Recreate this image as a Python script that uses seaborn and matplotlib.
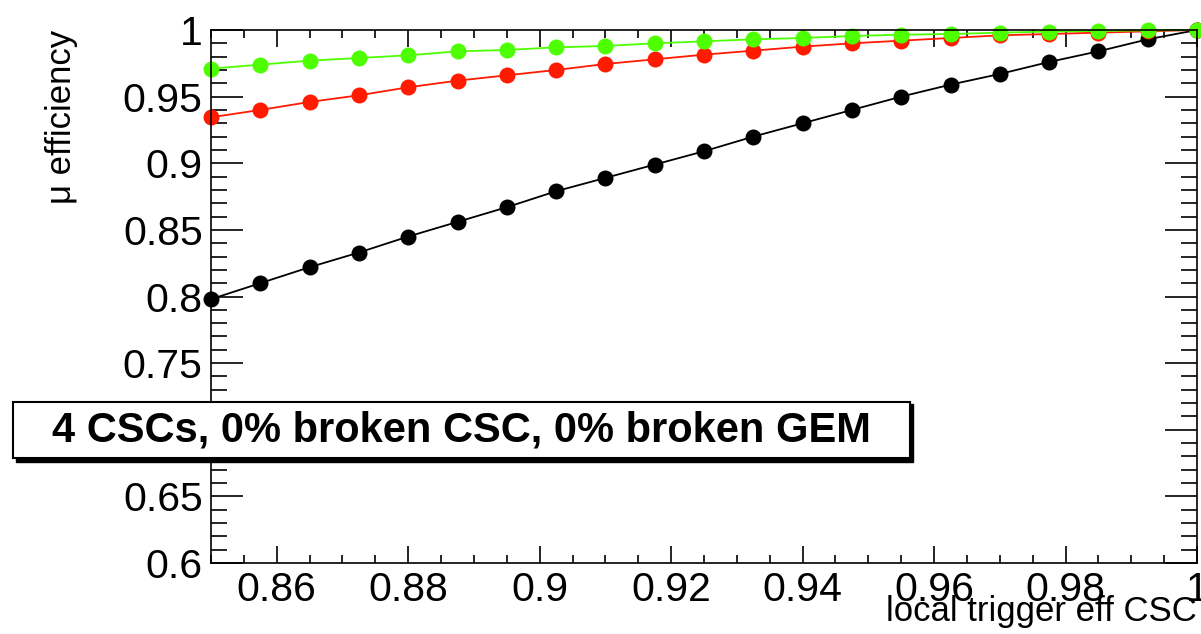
import numpy as np
import pandas as pd
import matplotlib
matplotlib.use('Agg')
import matplotlib.pyplot as plt
import seaborn as sns
from matplotlib.patches import Rectangle
from matplotlib.ticker import MultipleLocator, FixedLocator, FuncFormatter

# local trigger efficiency of the CSCs (x) and muon efficiency (y)
trig_eff = [0.85, 0.8575, 0.865, 0.8725, 0.88, 0.8875, 0.895, 0.9025, 0.91, 0.9175,
            0.925, 0.9325, 0.94, 0.9475, 0.955, 0.9625, 0.97, 0.9775, 0.985, 0.9925, 1.0]
eff_black = [0.798, 0.810, 0.822, 0.833, 0.845, 0.856, 0.867, 0.879, 0.889, 0.899,
             0.909, 0.920, 0.930, 0.940, 0.950, 0.959, 0.967, 0.976, 0.984, 0.993, 1.000]
eff_red = [0.9345, 0.940, 0.946, 0.951, 0.957, 0.962, 0.966, 0.970, 0.9745, 0.978,
           0.9815, 0.9845, 0.9875, 0.990, 0.992, 0.994, 0.996, 0.997, 0.998, 0.999, 1.000]
eff_green = [0.971, 0.974, 0.977, 0.979, 0.981, 0.984, 0.985, 0.987, 0.988, 0.990,
             0.9915, 0.993, 0.994, 0.9955, 0.9965, 0.997, 0.998, 0.9988, 0.9993, 0.9997, 1.000]

x_ticks = [0.86, 0.88, 0.9, 0.92, 0.94, 0.96, 0.98, 1.0]
y_ticks = [0.6, 0.65, 0.7, 0.75, 0.8, 0.85, 0.9, 0.95, 1.0]
box_text = '4 CSCs, 0% broken CSC, 0% broken GEM'

sns.set_style('ticks')
plt.rcParams['font.family'] = ['Liberation Sans', 'DejaVu Sans']
plt.rcParams['text.color'] = 'black'
plt.rcParams['axes.labelcolor'] = 'black'

fig = plt.figure(figsize=(12.01, 6.34), dpi=100)
ax = fig.add_axes([211 / 1201, 1 - 563 / 634, 986 / 1201, 533 / 634])

series = [(eff_black, 'black'), (eff_red, '#ff1a00'), (eff_green, '#4dff00')]
for vals, col in series:
    df = pd.DataFrame({'x': trig_eff, 'y': vals})
    sns.lineplot(data=df, x='x', y='y', color=col, marker='o', markersize=11.5,
                 markeredgewidth=0, linewidth=1.3, clip_on=False, ax=ax)

ax.set_xlim(0.85, 1.0)
ax.set_ylim(0.6, 1.0)

ax.xaxis.set_major_locator(FixedLocator(x_ticks))
ax.xaxis.set_minor_locator(MultipleLocator(0.005))
ax.yaxis.set_major_locator(FixedLocator(y_ticks))
ax.yaxis.set_minor_locator(MultipleLocator(0.01))
fmt = FuncFormatter(lambda v, p: '%g' % round(v, 4))
ax.xaxis.set_major_formatter(fmt)
ax.yaxis.set_major_formatter(fmt)

ax.tick_params(axis='both', which='both', direction='in', top=True, right=True,
               color='black', width=1.2, labelsize=29.5, labelcolor='black')
ax.tick_params(axis='x', which='major', length=12, pad=6)
ax.tick_params(axis='x', which='minor', length=6)
ax.tick_params(axis='y', which='major', length=23, pad=6)
ax.tick_params(axis='y', which='minor', length=11.5)
for s in ax.spines.values():
    s.set_linewidth(1.2)
    s.set_color('black')

ax.set_xlabel('local trigger eff CSC', fontsize=25, ha='right', color='black')
ax.xaxis.set_label_coords(1.0, -0.06)
ax.set_ylabel('\u03bc efficiency', fontsize=25, ha='right', color='black')
ax.yaxis.set_label_coords(-0.135, 1.0)

# text box with shadow, drawn over the axes like the ROOT TPaveText
W, H = 1201, 634
fig.add_artist(Rectangle((16 / W, 1 - 462 / H), 897 / W, 58 / H, transform=fig.transFigure,
                         facecolor='black', edgecolor='black', zorder=5))
fig.add_artist(Rectangle((13 / W, 1 - 458 / H), 897 / W, 56 / H, transform=fig.transFigure,
                         facecolor='white', edgecolor='black', linewidth=1.5, zorder=6))
fig.text(461 / W, 1 - 430 / H, box_text, fontsize=30, fontweight='bold', color='black',
         ha='center', va='center', zorder=7)

fig.savefig('out.png', dpi=100)
